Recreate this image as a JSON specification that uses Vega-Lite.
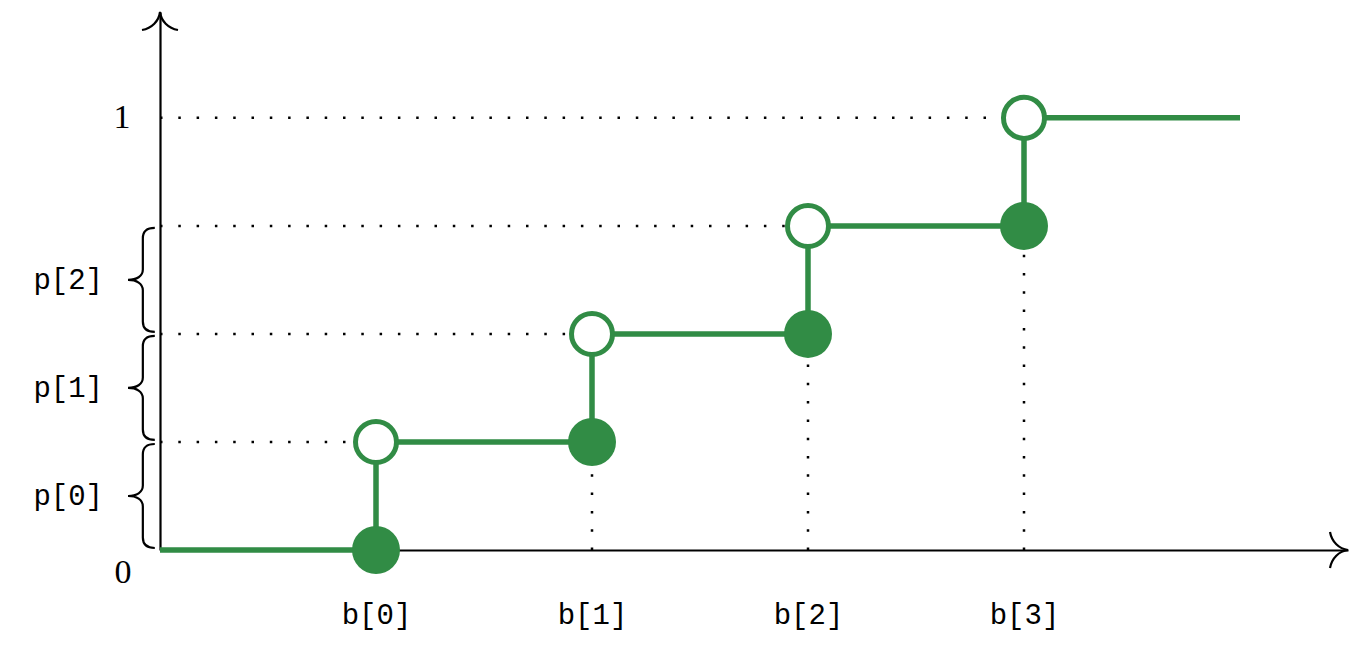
{
  "$schema": "https://vega.github.io/schema/vega-lite/v6.json",
  "autosize": "none",
  "width": 1188,
  "height": 538,
  "padding": {"left": 160, "top": 12, "right": 23, "bottom": 96},
  "background": "white",
  "config": {"view": {"stroke": null}},
  "datasets": {
    "steps": [
      {"x": 0, "y": 0},
      {"x": 1, "y": 0.25},
      {"x": 2, "y": 0.5},
      {"x": 3, "y": 0.75},
      {"x": 4, "y": 1},
      {"x": 5, "y": 1}
    ],
    "closed": [
      {"x": 1, "y": 0},
      {"x": 2, "y": 0.25},
      {"x": 3, "y": 0.5},
      {"x": 4, "y": 0.75}
    ],
    "open": [
      {"x": 1, "y": 0.25},
      {"x": 2, "y": 0.5},
      {"x": 3, "y": 0.75},
      {"x": 4, "y": 1}
    ],
    "guides": [
      {"x": 0, "y": 0.25, "x2": 1, "y2": 0.25},
      {"x": 0, "y": 0.5, "x2": 2, "y2": 0.5},
      {"x": 0, "y": 0.75, "x2": 3, "y2": 0.75},
      {"x": 0, "y": 1, "x2": 4, "y2": 1},
      {"x": 2, "y": 0, "x2": 2, "y2": 0.25},
      {"x": 3, "y": 0, "x2": 3, "y2": 0.5},
      {"x": 4, "y": 0, "x2": 4, "y2": 0.75}
    ],
    "braces": [
      {"y": 0.125, "label": "p[0]"},
      {"y": 0.375, "label": "p[1]"},
      {"y": 0.625, "label": "p[2]"}
    ]
  },
  "layer": [
    {
      "data": {"name": "guides"},
      "mark": {"type": "rule", "color": "black", "strokeWidth": 2.5, "strokeDash": [2.5, 15.8], "strokeCap": "butt"},
      "encoding": {
        "x": {"field": "x", "type": "quantitative", "scale": {"domain": [0, 5.5], "nice": false, "zero": false},
          "axis": {"values": [1, 2, 3, 4], "labelExpr": "'b[' + (datum.value - 1) + ']'", "title": null, "grid": false, "ticks": false, "tickSize": 0,
            "domainColor": "black", "domainWidth": 2.2, "labelFont": "Liberation Mono", "labelFontSize": 29, "labelColor": "black",
            "labelBaseline": "middle", "labelPadding": 64}},
        "y": {"field": "y", "type": "quantitative", "scale": {"domain": [0, 1.245], "nice": false, "zero": false},
          "axis": {"values": [1], "labelExpr": "'1'", "title": null, "grid": false, "ticks": false, "tickSize": 0,
            "domainColor": "black", "domainWidth": 2.2, "labelFont": "Liberation Serif", "labelFontSize": 34, "labelColor": "black",
            "labelBaseline": "middle", "labelPadding": 30}},
        "x2": {"field": "x2"},
        "y2": {"field": "y2"}
      }
    },
    {
      "data": {"name": "steps"},
      "mark": {"type": "line", "interpolate": "step-after", "color": "#318c45", "strokeWidth": 5.5, "strokeCap": "butt"},
      "encoding": {
        "x": {"field": "x", "type": "quantitative"},
        "y": {"field": "y", "type": "quantitative"}
      }
    },
    {
      "data": {"name": "closed"},
      "mark": {"type": "point", "shape": "circle", "filled": true, "color": "#318c45", "opacity": 1, "size": 2304},
      "encoding": {
        "x": {"field": "x", "type": "quantitative"},
        "y": {"field": "y", "type": "quantitative"}
      }
    },
    {
      "data": {"name": "open"},
      "mark": {"type": "point", "shape": "circle", "filled": true, "fill": "white", "stroke": "#318c45", "strokeWidth": 5, "opacity": 1, "size": 1681},
      "encoding": {
        "x": {"field": "x", "type": "quantitative"},
        "y": {"field": "y", "type": "quantitative"}
      }
    },
    {
      "data": {"values": [{"x": 5.5, "y": 0}]},
      "mark": {"type": "point", "shape": "M -1 -1 C -0.9 -0.45 -0.5 -0.06 0 0 C -0.5 0.06 -0.9 0.45 -1 1", "filled": false, "color": "black", "strokeWidth": 2.2, "opacity": 1, "size": 1296},
      "encoding": {
        "x": {"field": "x", "type": "quantitative"},
        "y": {"field": "y", "type": "quantitative"}
      }
    },
    {
      "data": {"values": [{"x": 0, "y": 1.245}]},
      "mark": {"type": "point", "shape": "M -1 -1 C -0.9 -0.45 -0.5 -0.06 0 0 C -0.5 0.06 -0.9 0.45 -1 1", "angle": 270, "filled": false, "color": "black", "strokeWidth": 2.2, "opacity": 1, "size": 1296},
      "encoding": {
        "x": {"field": "x", "type": "quantitative"},
        "y": {"field": "y", "type": "quantitative"}
      }
    },
    {
      "data": {"name": "braces"},
      "mark": {"type": "point", "shape": "M -0.1 -1 C -0.25 -1 -0.33 -0.94 -0.33 -0.8 L -0.33 -0.2 C -0.33 -0.07 -0.45 0 -0.615 0 C -0.45 0 -0.33 0.07 -0.33 0.2 L -0.33 0.8 C -0.33 0.94 -0.25 1 -0.1 1", "filled": false, "color": "black", "strokeWidth": 2.2, "opacity": 1, "size": 10816},
      "encoding": {
        "x": {"datum": 0, "type": "quantitative"},
        "y": {"field": "y", "type": "quantitative"}
      }
    },
    {
      "data": {"name": "braces"},
      "mark": {"type": "text", "align": "right", "baseline": "middle", "dx": -57, "font": "Liberation Mono", "fontSize": 29, "color": "black"},
      "encoding": {
        "x": {"datum": 0, "type": "quantitative"},
        "y": {"field": "y", "type": "quantitative"},
        "text": {"field": "label"}
      }
    },
    {
      "data": {"values": [{"x": 0, "y": 0, "label": "0"}]},
      "mark": {"type": "text", "align": "center", "baseline": "middle", "dx": -37, "dy": 23, "font": "Liberation Serif", "fontSize": 34, "color": "black"},
      "encoding": {
        "x": {"field": "x", "type": "quantitative"},
        "y": {"field": "y", "type": "quantitative"},
        "text": {"field": "label"}
      }
    }
  ]
}
